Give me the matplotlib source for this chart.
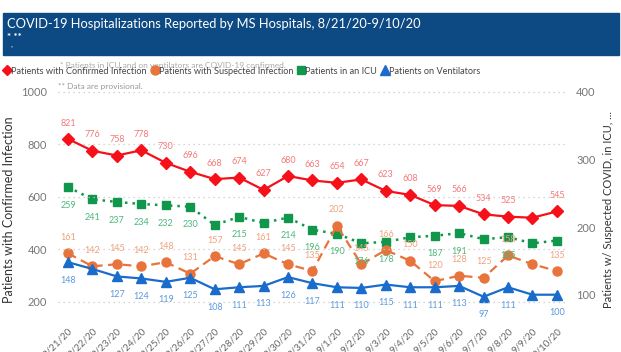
import numpy as np
import matplotlib
matplotlib.use("Agg")
import matplotlib.pyplot as plt
from matplotlib.lines import Line2D
from matplotlib.patches import Rectangle

plt.rcParams['font.family'] = ['Lato', 'DejaVu Sans']

dates = ['8/21/20', '8/22/20', '8/23/20', '8/24/20', '8/25/20', '8/26/20', '8/27/20',
         '8/28/20', '8/29/20', '8/30/20', '8/31/20', '9/1/20', '9/2/20', '9/3/20',
         '9/4/20', '9/5/20', '9/6/20', '9/7/20', '9/8/20', '9/9/20', '9/10/20']

confirmed = [821, 776, 758, 778, 730, 696, 668, 674, 627, 680, 663, 654, 667, 623,
             608, 569, 566, 534, 525, 521, 545]
suspected = [161, 142, 145, 142, 148, 131, 157, 145, 161, 145, 135, 202, 145, 166,
             150, 120, 128, 125, 158, 145, 135]
icu = [259, 241, 237, 234, 232, 230, 203, 215, 206, 214, 196, 190, 176, 178,
       185, 187, 191, 182, 185, 176, 180]
vents = [148, 138, 127, 124, 119, 125, 108, 111, 113, 126, 117, 111, 110, 115,
         111, 111, 113, 97, 111, 100, 100]

# which data labels Power BI actually showed (others were hidden)
conf_show = [True] * 19 + [False, True]
susp_show = [True] * 19 + [False, True]
icu_show = [True] * 6 + [False, True, False, True, True, True, True, True,
                         False, True, True, False, True, False, False]
vent_show = [True, False] + [True] * 17 + [False, True]

left_ticks = [200, 400, 600, 800, 1000]
right_ticks = [100, 200, 300, 400]

W, H = 621, 352
fig = plt.figure(figsize=(W / 100, H / 100), dpi=100)

# title banner
fig.patches.append(Rectangle((3 / W, 1 - 55 / H), 616 / W, 42 / H,
                             transform=fig.transFigure, color='#0d4a84', zorder=0))
fig.text(7 / W, 1 - 24 / H, "COVID-19 Hospitalizations Reported by MS Hospitals, 8/21/20-9/10/20",
         color='white', fontsize=9.3, va='center', ha='left')
fig.text(7 / W, 1 - 38 / H, "* **", color='white', fontsize=7, fontweight='bold',
         va='center', ha='left')
fig.text(11 / W, 1 - 45 / H, ",", color='white', fontsize=6, va='center', ha='left')

ax = fig.add_axes([58 / W, 1 - 318 / H, 507 / W, 228 / H])
ax2 = ax.twinx()

x = np.arange(len(dates))

ax.plot(x, confirmed, color='#f5101a', lw=1.6, marker='D', ms=6, zorder=5)
ax2.plot(x, icu, color='#10974b', lw=1.8, ls=(0, (1, 2)), marker='s', ms=5.5)
ax2.plot(x, suspected, color='#e8743b', lw=1.6, ls=(0, (4, 2.5)), marker='o', ms=6.5)
ax2.plot(x, vents, color='#1a6ccc', lw=1.6, marker='^', ms=6.5)

ax.set_xlim(-0.41, 20.33)
ax.set_ylim(139, 1007.6)
ax2.set_ylim(65.6, 402.4)

ax.set_yticks(left_ticks)
ax2.set_yticks(right_ticks)
ax.set_xticks(x)
ax.set_xticklabels(dates, rotation=45, ha='right', rotation_mode='anchor',
                   fontsize=7, color='#666666')
ax.tick_params(axis='x', length=0, pad=6)
ax.tick_params(axis='y', length=0, pad=8, labelsize=8, labelcolor='#777777')
ax2.tick_params(axis='y', length=0, pad=8, labelsize=8, labelcolor='#777777')

ax.grid(axis='y', color='#c8c8c8', ls=(0, (1, 3)), lw=0.9)
for a in (ax, ax2):
    for s in a.spines.values():
        s.set_visible(False)
ax.set_zorder(ax2.get_zorder() + 1)
ax.patch.set_visible(False)

ax.set_ylabel("Patients with Confirmed Infection", fontsize=9, color='#333333')
ax.yaxis.set_label_coords(-43 / 507, 0.474)
ax2.set_ylabel("Patients w/ Suspected COVID, in ICU, ...", fontsize=8, color='#333333')
ax2.yaxis.set_label_coords(1 + 38 / 507, 0.478)


def add_labels(axis, vals, show, color, dy):
    for i, (v, s) in enumerate(zip(vals, show)):
        if s:
            axis.annotate(str(v), (i, v), xytext=(0, dy), textcoords='offset points',
                          ha='center', va='center', fontsize=6.5, color=color)


add_labels(ax, confirmed, conf_show, '#f47a7a', 11.5)
add_labels(ax2, icu, icu_show, '#4cb87c', -13)
add_labels(ax2, suspected, susp_show, '#f0a27c', 11.5)
add_labels(ax2, vents, vent_show, '#5b98dc', -13)

# legend
handles = [
    Line2D([], [], color='#f5101a', marker='D', ls='none', ms=5),
    Line2D([], [], color='#e8743b', marker='o', ls='none', ms=6.5),
    Line2D([], [], color='#10974b', marker='s', ls='none', ms=6),
    Line2D([], [], color='#1a6ccc', marker='^', ls='none', ms=6.5),
]
names = ["Patients with Confirmed Infection", "Patients with Suspected Infection",
         "Patients in an ICU", "Patients on Ventilators"]
fig.legend(handles, names, loc='center left', bbox_to_anchor=(4 / W, 1 - 71 / H),
           ncol=4, frameon=False, fontsize=6.6, handlelength=0.7, handletextpad=0.1,
           columnspacing=0.5, borderaxespad=0, borderpad=0, labelcolor='#444444')

fig.text(60 / W, 1 - 66 / H, "* Patients in ICU and on ventilators are COVID-19 confirmed.",
         fontsize=6, color='#aaaaaa', va='center', ha='left')
fig.text(58 / W, 1 - 86 / H, "** Data are provisional.",
         fontsize=6, color='#999999', va='center', ha='left')

fig.savefig("out.png", dpi=100)
